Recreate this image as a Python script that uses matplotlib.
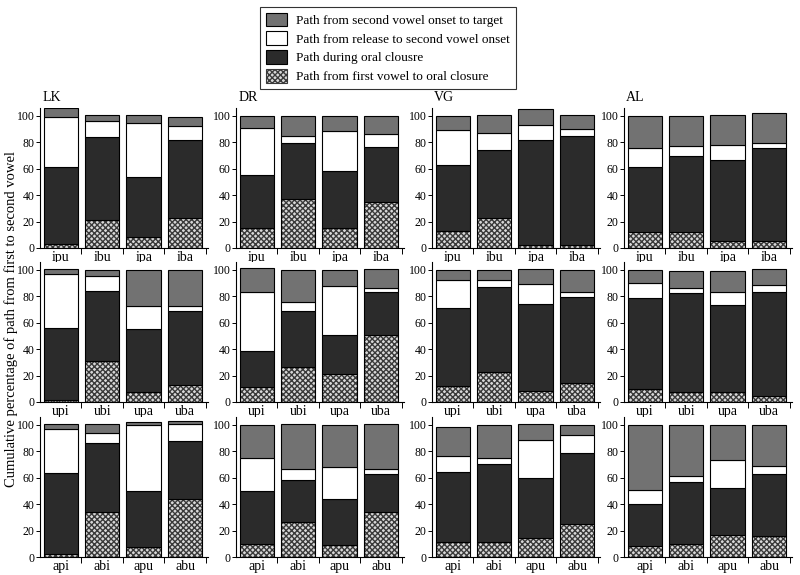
import numpy as np
import matplotlib
matplotlib.use("Agg")
import matplotlib.pyplot as plt
from matplotlib.patches import Patch

plt.rcParams['font.family'] = ['Liberation Serif', 'DejaVu Serif']

speakers = ["LK", "DR", "VG", "AL"]
row_labels = [
    ["ipu", "ibu", "ipa", "iba"],
    ["upi", "ubi", "upa", "uba"],
    ["api", "abi", "apu", "abu"],
]

# cumulative tops per segment: [dotted, dark, white, grey], per speaker, per row
tops_row1 = {
    "LK": [[3, 61, 99, 106], [21, 84, 96, 101], [8, 54, 94.5, 101], [23, 82, 92.7, 99.5]],
    "DR": [[15.5, 55, 91, 100], [37, 79.5, 84.5, 100], [15.5, 58, 88.5, 100], [34.5, 76.5, 86, 100]],
    "VG": [[12.5, 63, 89.5, 100], [23, 74.5, 87, 100.5], [2, 81.5, 93, 105], [2, 85, 90, 101]],
    "AL": [[12, 61, 76, 100], [12, 70, 77, 100], [5, 66.5, 78, 100.5], [5, 76, 79.5, 102]],
}
tops_row2 = {
    "LK": [[1.5, 56, 97, 101], [31, 84, 95.5, 100], [7.6, 55, 73, 100], [12.7, 69, 73, 100]],
    "DR": [[11, 38.5, 83, 101.5], [26.5, 69, 75.5, 100], [21.5, 50.5, 87.5, 100], [51, 83, 86.5, 101]],
    "VG": [[12, 71, 92, 100], [22.5, 87, 92.7, 100], [8, 74, 89.4, 101], [14.4, 79.5, 83, 100]],
    "AL": [[9.6, 78.6, 90, 100], [7.3, 82.6, 86, 99.5], [7.8, 73.5, 83.6, 99.5], [4.8, 83.6, 88.4, 100.5]],
}
tops_row3 = {
    "LK": [[2.5, 63.5, 96.7, 100.5], [34.2, 86.6, 93.7, 100.5], [7.3, 50, 100, 102], [44, 88, 100.5, 103]],
    "DR": [[9.6, 49.6, 74.6, 100], [26.7, 58.4, 66.5, 100.7], [9, 43.8, 68, 100], [34, 63, 66.5, 100.7]],
    "VG": [[11.3, 64.7, 76.3, 98.7], [11.3, 70.7, 74.8, 100], [14.4, 59.7, 88.7, 100.5], [24.7, 79, 92, 100]],
    "AL": [[8.3, 40.5, 50.5, 100], [10, 56.5, 61.6, 100], [16.3, 52.5, 73.6, 100], [16, 62.8, 68.8, 100]],
}
all_tops = [tops_row1, tops_row2, tops_row3]

legend_labels = [
    "Path from second vowel onset to target",
    "Path from release to second vowel onset",
    "Path during oral clousre",
    "Path from first vowel to oral closure",
]

grey = "#727272"
dark = "#2b2b2b"
dot_face = "#d8d8d8"
dot_hatch = "#3a3a3a"

fig = plt.figure(figsize=(8, 5.75), dpi=100)

lefts = [0.05, 0.295, 0.54, 0.78]
bottoms = [0.5687, 0.3009, 0.0313]
w, h = 0.21, 0.2435
bw = 0.83

for r in range(3):
    for c, spk in enumerate(speakers):
        ax = fig.add_axes([lefts[c], bottoms[r], w, h])
        tops = np.array(all_tops[r][spk])
        x = np.arange(4)
        dotted = tops[:, 0]
        # dotted segment: hatch drawn with edgecolor, outline added afterwards
        ax.bar(x, dotted, bw, color=dot_face, edgecolor=dot_hatch, hatch="xxxxxx", lw=0)
        ax.bar(x, dotted, bw, fill=False, edgecolor="black", lw=0.8)
        ax.bar(x, tops[:, 1] - tops[:, 0], bw, bottom=tops[:, 0], color=dark, edgecolor="black", lw=0.8)
        ax.bar(x, tops[:, 2] - tops[:, 1], bw, bottom=tops[:, 1], color="white", edgecolor="black", lw=0.8)
        ax.bar(x, tops[:, 3] - tops[:, 2], bw, bottom=tops[:, 2], color=grey, edgecolor="black", lw=0.8)

        ax.set_xlim(-0.5, 3.55)
        ax.set_ylim(0, 106)
        ax.spines['top'].set_visible(False)
        ax.spines['right'].set_visible(False)
        ax.spines['left'].set_linewidth(0.8)
        ax.spines['bottom'].set_linewidth(0.8)
        ax.set_yticks([0, 20, 40, 60, 80, 100])
        ax.tick_params(axis='y', labelsize=8.5, length=3, width=0.7, pad=1)
        ax.set_xticks(x)
        ax.set_xticklabels(row_labels[r], fontsize=10)
        ax.tick_params(axis='x', length=0, pad=2)
        ax.set_xticks([0.5, 1.5, 2.5, 3.5], minor=True)
        ax.tick_params(axis='x', which='minor', length=4, width=0.7)
        if r == 0:
            ax.text(-0.45, 109, spk, fontsize=10, ha='left', va='bottom')

fig.text(0.014, 0.445, "Cumulative percentage of path from first to second vowel",
         rotation=90, ha='center', va='center', fontsize=10.5)

handles = [
    Patch(facecolor=grey, edgecolor="black", lw=0.8),
    Patch(facecolor="white", edgecolor="black", lw=0.8),
    Patch(facecolor=dark, edgecolor="black", lw=0.8),
    Patch(facecolor=dot_face, edgecolor=dot_hatch, hatch="xxxxxx", lw=0.8),
]
leg = fig.legend(handles, legend_labels, loc='upper center', bbox_to_anchor=(0.485, 1.0),
                 fontsize=9.5, frameon=True, fancybox=False, handlelength=1.6, handleheight=1.2,
                 labelspacing=0.35, borderpad=0.45, handletextpad=0.7)
leg.get_frame().set_edgecolor("black")
leg.get_frame().set_linewidth(0.8)

fig.savefig("out.png", dpi=100)
